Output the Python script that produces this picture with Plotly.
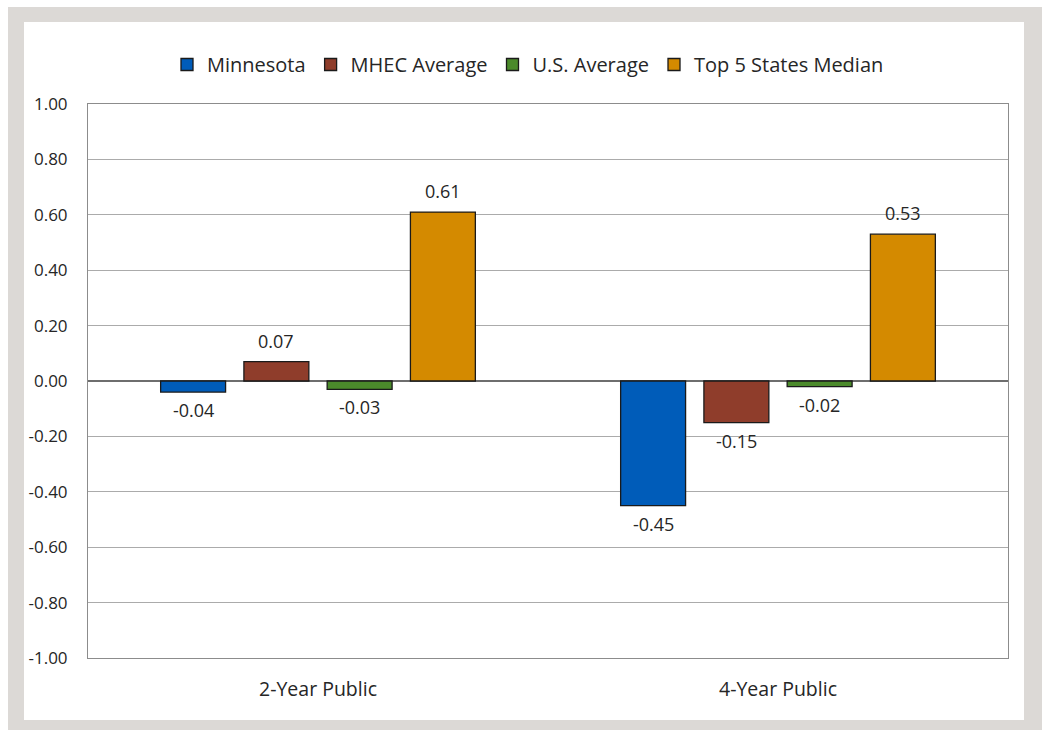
import plotly.graph_objects as go

categories = ["2-Year Public", "4-Year Public"]
series_names = ["Minnesota", "MHEC Average", "U.S. Average", "Top 5 States Median"]
minnesota = [-0.04, -0.45]
mhec_avg = [0.07, -0.15]
us_avg = [-0.03, -0.02]
top5_median = [0.61, 0.53]
colors = ["#005cb9", "#8f3d2b", "#4b8a2b", "#d48a00"]
tick_vals = [-1.0, -0.8, -0.6, -0.4, -0.2, 0.0, 0.2, 0.4, 0.6, 0.8, 1.0]
tick_text = ["-1.00", "-0.80", "-0.60", "-0.40", "-0.20", "0.00", "0.20", "0.40", "0.60", "0.80", "1.00"]

W, H = 1042, 730
ml, mr, mt, mb = 88, 34, 104, 72
pw = W - ml - mr
ph = H - mt - mb

all_series = [minnesota, mhec_avg, us_avg, top5_median]
FONT = "Open Sans"
TXT = "#262626"

fig = go.Figure()
for name, vals, col in zip(series_names, all_series, colors):
    fig.add_trace(go.Bar(
        x=categories, y=vals, name=name,
        marker=dict(color=col, line=dict(color="#1a1a1a", width=1.3)),
    ))

# data labels
bargap = 0.276
slot = pw / len(categories) * (1 - bargap) / len(series_names)
label_font = dict(family=FONT, size=18, color=TXT)
for i, vals in enumerate(all_series):
    xs = (i - (len(series_names) - 1) / 2) * slot
    for c, v in zip(categories, vals):
        fig.add_annotation(
            x=c, y=v, xref="x", yref="y", text=f"{v:.2f}", showarrow=False,
            xshift=xs, yshift=21 if v >= 0 else -18, font=label_font,
        )

def px_to_paper_x(px):
    return (px - ml) / pw

def px_to_paper_y(py):
    return (H - mb - py) / ph

# gray frame (outer) and white panel (inner)
fig.add_shape(type="rect", xref="paper", yref="paper", layer="below",
              x0=px_to_paper_x(8), x1=px_to_paper_x(1045),
              y0=px_to_paper_y(733), y1=px_to_paper_y(7),
              fillcolor="#dcd9d6", line=dict(width=0))
fig.add_shape(type="rect", xref="paper", yref="paper", layer="below",
              x0=px_to_paper_x(24), x1=px_to_paper_x(1024),
              y0=px_to_paper_y(720), y1=px_to_paper_y(22),
              fillcolor="white", line=dict(width=0))

fig.update_layout(
    width=W, height=H,
    margin=dict(l=ml, r=mr, t=mt, b=mb, autoexpand=False),
    paper_bgcolor="white", plot_bgcolor="white",
    barmode="group", bargap=bargap, bargroupgap=0.22,
    font=dict(family=FONT, size=17, color=TXT),
    showlegend=True,
    legend=dict(orientation="h", x=px_to_paper_x(528), xanchor="center",
                y=px_to_paper_y(45), yanchor="top",
                font=dict(family=FONT, size=20, color=TXT),
                traceorder="normal", itemclick=False, bgcolor="rgba(0,0,0,0)"),
    xaxis=dict(showline=True, linecolor="#8c8c8c", linewidth=1, mirror=True,
               ticks="", ticklabelstandoff=14,
               tickfont=dict(family=FONT, size=19.5, color=TXT)),
    yaxis=dict(range=[-1, 1], tickvals=tick_vals, ticktext=tick_text,
               showgrid=True, gridcolor="#ababab", gridwidth=1,
               zeroline=True, zerolinecolor="#6e6e6e", zerolinewidth=1.5,
               showline=True, linecolor="#8c8c8c", linewidth=1, mirror=True,
               ticks="", ticklabelstandoff=16,
               tickfont=dict(family=FONT, size=17, color=TXT)),
)

fig.write_html("out.html", config={"displayModeBar": False},
               post_script="document.body.style.margin='0';document.body.style.overflow='hidden';")
